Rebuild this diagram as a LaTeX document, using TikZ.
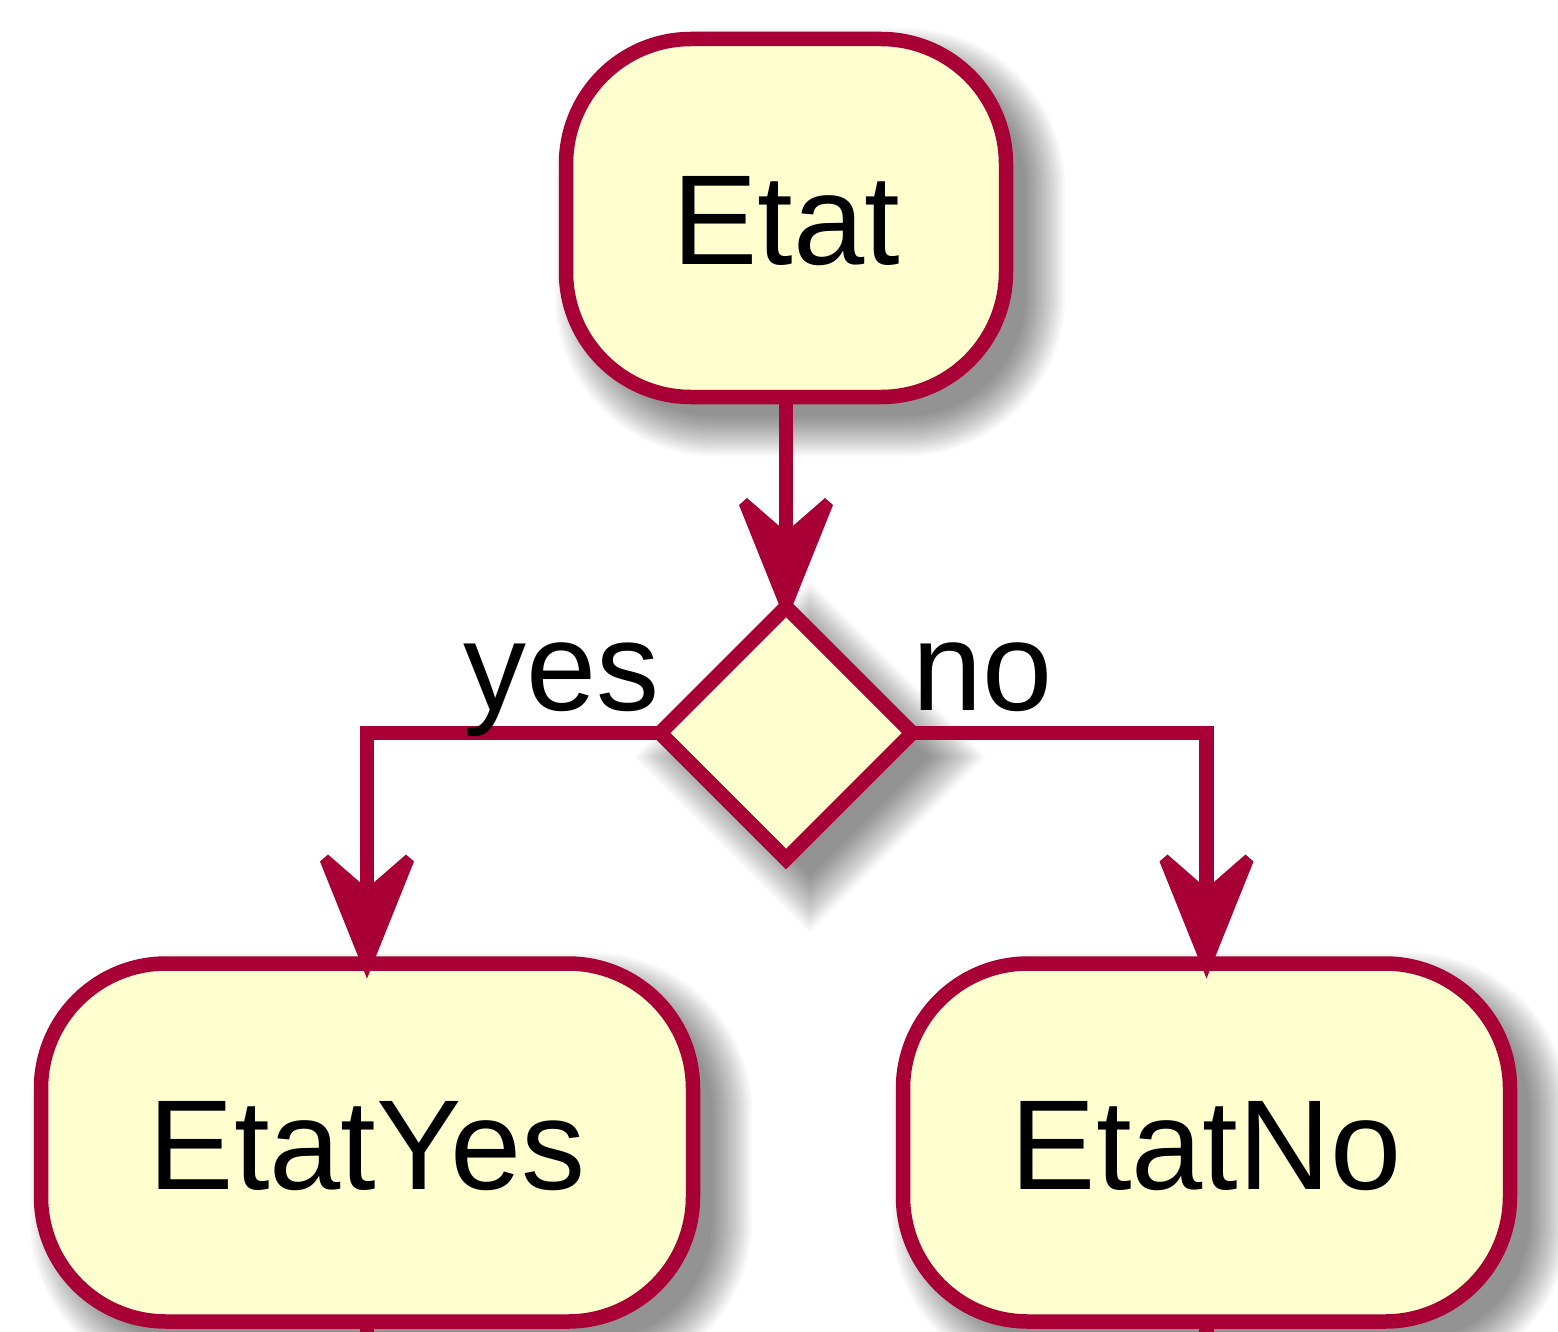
\documentclass[tikz,border=0pt]{standalone}
\usepackage{fontspec}
\setmainfont{Liberation Sans}
\usetikzlibrary{shapes.geometric,calc}
\definecolor{pfill}{HTML}{FEFECE}
\definecolor{pline}{HTML}{A80036}
\pgfdeclarelayer{shadowlayer}
\pgfdeclarelayer{linelayer}
\pgfsetlayers{shadowlayer,linelayer,main}
\tikzset{
 actbox/.style={draw=pline, fill=pfill, line width=14.5pt, rounded corners=125pt, inner sep=0pt, outer sep=0pt,
   font=\fontsize{128}{140}\selectfont, text height=94pt, text depth=0pt, minimum height=358pt},
 decision/.style={diamond, aspect=1, draw=pline, fill=pfill, line width=14.5pt, inner sep=0pt, outer sep=0pt,
   minimum width=252pt, minimum height=252pt},
 conn/.style={draw=pline, line width=14.5pt},
 lbl/.style={inner sep=0pt, outer sep=0pt, font=\fontsize{126}{140}\selectfont},
 tipfill/.style={fill=pline},
 shadowfill/.style={fill=black, opacity=0.024},
}
\newcommand\ptip[1]{\fill[tipfill] ($(#1)+(0,15)$) -- ++(-47,-117) -- ++(8,-7) -- ($(#1)+(0,-75)$) -- ++(39,-34) -- ++(8,7) -- cycle;}
\newcommand\rrshadow[4]{%
 \foreach \d in {-12,-10,...,28}{%
  \pgfmathsetmacro\xa{#1-#3/2-7.25+24-\d}%
  \pgfmathsetmacro\xb{#1+#3/2+7.25+24+\d}%
  \pgfmathsetmacro\ya{#2-#4/2-7.25+24-\d}%
  \pgfmathsetmacro\yb{#2+#4/2+7.25+24+\d}%
  \pgfmathsetmacro\rr{132.25+\d}%
  \fill[shadowfill, rounded corners=\rr pt] (\xa,\ya) rectangle (\xb,\yb);
 }}
\begin{document}
\begin{tikzpicture}[x=1pt,y=-1pt]
\useasboundingbox (0,0) rectangle (1558,1332);
\begin{pgfonlayer}{shadowlayer}
 \fill[white] (0,0) rectangle (1558,1332);
 \rrshadow{786}{218}{440}{358}
 \rrshadow{367}{1142.5}{652}{358}
 \rrshadow{1206.5}{1142.5}{607}{358}
 \foreach \d in {-12,-10,...,28}{%
  \pgfmathsetmacro\hh{136+1.414*\d}%
  \fill[shadowfill] (810,{757-\hh}) -- ({810+\hh},757) -- (810,{757+\hh}) -- ({810-\hh},757) -- cycle;
 }
\end{pgfonlayer}
\node[actbox, minimum width=440pt] (etat) at (786,218) {Etat};
\node[decision] (dia) at (786,733) {};
\node[actbox, minimum width=652pt] (etatyes) at (367,1142.5) {EtatYes};
\node[actbox, minimum width=607pt] (etatno) at (1206.5,1142.5) {EtatNo};
\node[lbl, anchor=base east] (ylab) at (660,710) {yes};
\node[lbl, anchor=base west] (nlab) at (912,710) {no};
\coordinate (yesend) at (367,1400);
\coordinate (noend) at (1206.5,1400);
\begin{pgfonlayer}{linelayer}
 \draw[conn] (etat.south) -- ($(dia.north)+(0,-60)$);
 \draw[conn] (dia.west) -| ($(etatyes.north)+(0,-60)$);
 \draw[conn] (dia.east) -| ($(etatno.north)+(0,-60)$);
 \draw[conn] (etatyes.south) -- (yesend);
 \draw[conn] (etatno.south) -- (noend);
 \ptip{dia.north}
\end{pgfonlayer}
\ptip{etatyes.north}
\ptip{etatno.north}
\end{tikzpicture}
\end{document}
